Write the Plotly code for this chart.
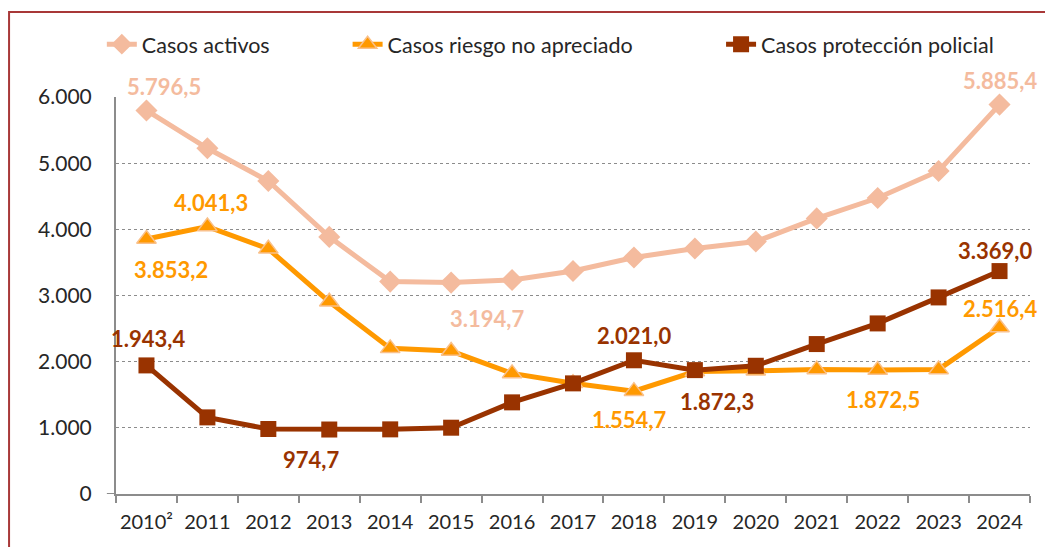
import plotly.graph_objects as go

# ---------- data ----------
years = ["2010²", "2011", "2012", "2013", "2014", "2015", "2016", "2017",
         "2018", "2019", "2020", "2021", "2022", "2023", "2024"]

casos_activos = [5796.5, 5225, 4730, 3886, 3210, 3194.7, 3234, 3370,
                 3575, 3710, 3815, 4165, 4473, 4881, 5885.4]
casos_riesgo = [3853.2, 4041.3, 3705, 2905, 2201, 2160, 1823, 1675,
                1554.7, 1850, 1862, 1883, 1872.5, 1883, 2516.4]
casos_proteccion = [1943.4, 1158, 982, 974.7, 977, 1002, 1385, 1672,
                    2021.0, 1872.3, 1938, 2266, 2578, 2971, 3369.0]

series_names = ["Casos activos", "Casos riesgo no apreciado", "Casos protección policial"]

# labelled points: (year index, xshift, yshift)
labels_activos = [(0, 18, 24), (5, 36, -36), (14, 0, 24)]
labels_riesgo = [(0, 25, -30), (1, 4, 24), (8, -5, -28), (12, 5, -29), (14, 0, 19)]
labels_proteccion = [(0, 2, 27), (3, -18, -30), (8, 0, 25), (9, 22, -31), (14, -5, 21)]

C_ACT = "#F4BB9E"
C_RIE = "#FF9900"
C_PRO = "#993300"
FONT = "Lato, Carlito, sans-serif"
TXT = "#262626"
AXIS = "#8C8C8C"


def fmt(v):
    s = f"{v:,.1f}"
    return s.replace(",", "X").replace(".", ",").replace("X", ".")


fig = go.Figure()

fig.add_trace(go.Scatter(
    x=years, y=casos_activos, name=series_names[0], mode="lines+markers",
    line=dict(color=C_ACT, width=5),
    marker=dict(symbol="diamond", size=17, color=C_ACT, line=dict(width=0)),
    cliponaxis=False, legend="legend",
))
fig.add_trace(go.Scatter(
    x=years, y=casos_riesgo, name=series_names[1], mode="lines+markers",
    line=dict(color=C_RIE, width=5),
    marker=dict(symbol="triangle-up", size=17, color=C_RIE,
                line=dict(width=1.5, color="#F9C08A")),
    cliponaxis=False, legend="legend2",
))
fig.add_trace(go.Scatter(
    x=years, y=casos_proteccion, name=series_names[2], mode="lines+markers",
    line=dict(color=C_PRO, width=5),
    marker=dict(symbol="square", size=16, color=C_PRO, line=dict(width=0)),
    cliponaxis=False, legend="legend3",
))

annotations = []
for vals, labs, col in [(casos_activos, labels_activos, C_ACT),
                        (casos_riesgo, labels_riesgo, C_RIE),
                        (casos_proteccion, labels_proteccion, C_PRO)]:
    for i, dx, dy in labs:
        annotations.append(dict(
            x=i, y=vals[i], xref="x", yref="y", text=f"<b>{fmt(vals[i])}</b>",
            showarrow=False, xshift=dx, yshift=dy,
            font=dict(size=22, color=col, family=FONT),
        ))


def leg(x):
    return dict(orientation="h", x=x, xanchor="left", y=1.133, yanchor="middle",
                font=dict(size=21.5, color=TXT, family=FONT), itemwidth=30,
                bgcolor="rgba(0,0,0,0)", borderwidth=0)


# page body has an 8px margin, so the figure is 8px smaller than the window
fig.update_layout(
    width=1045, height=539,
    margin=dict(l=108, r=23, t=89, b=53, autoexpand=False),
    paper_bgcolor="white", plot_bgcolor="white",
    separators=",.",
    font=dict(family=FONT, size=20, color=TXT),
    showlegend=True,
    legend=leg(-0.0155),
    legend2=leg(0.2534),
    legend3=leg(0.662),
    annotations=annotations,
    xaxis=dict(
        type="category", range=[-0.5, 14.5],
        showline=True, linecolor=AXIS, linewidth=2,
        ticks="outside", tickson="boundaries", ticklen=7, tickcolor=AXIS, tickwidth=2,
        showgrid=False, tickfont=dict(size=20, color=TXT), ticklabelstandoff=9,
        tickangle=0,
    ),
    yaxis=dict(
        range=[0, 6000], tickvals=[0, 1000, 2000, 3000, 4000, 5000, 6000],
        tickformat=",.0f",
        showline=True, linecolor=AXIS, linewidth=2,
        ticks="", ticklabelstandoff=18,
        showgrid=True, gridcolor=AXIS, griddash="dot", gridwidth=1,
        zeroline=False, tickfont=dict(size=21, color=TXT),
    ),
    shapes=[
        dict(type="rect", xref="paper", yref="paper",
             x0=-0.117, x1=1.05, y0=-0.2, y1=1.214,
             line=dict(color="#A83838", width=2), layer="below"),
        # x axis line reaching a little past the y axis at zero
        dict(type="line", xref="paper", yref="y", x0=-0.01, x1=0, y0=0, y1=0,
             line=dict(color=AXIS, width=2)),
    ],
)

fig.write_html("out.html")
